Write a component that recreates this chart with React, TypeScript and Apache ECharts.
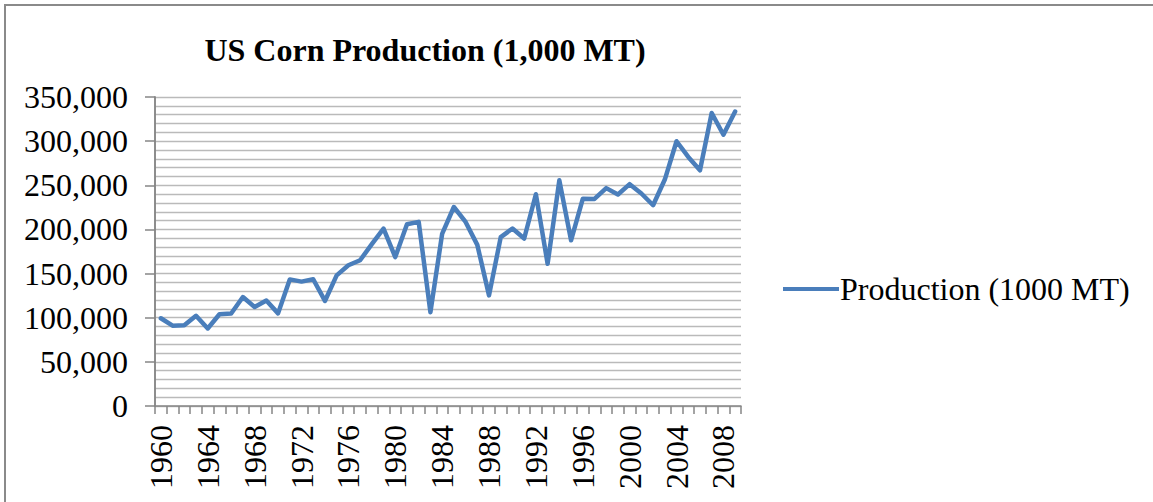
import React, { useEffect, useRef } from "react";
import * as echarts from "echarts";

const years: string[] = [];
for (let y = 1960; y <= 2009; y++) years.push(String(y));

const production: number[] = [
  99400, 91000, 91400, 102200, 87800, 103900, 104800, 123400, 112200, 119500,
  104900, 143400, 140900, 143600, 119000, 148000, 159400, 165100, 183300, 201000,
  168700, 205900, 208600, 106300, 195000, 225400, 208500, 182500, 125300, 191300,
  201000, 189700, 239800, 161100, 255600, 187700, 234700, 234600, 246800, 239600,
  251300, 240700, 227400, 256500, 299900, 282100, 267000, 331900, 307300, 333500,
];

const yMin = 0;
const yMax = 350000;
const gridStep = 10000;
const labelStep = 50000;

const FONT = "'Liberation Serif', 'Times New Roman', serif";

export default function App() {
  const ref = useRef<HTMLDivElement>(null);
  useEffect(() => {
    if (!ref.current) return;
    const chart = echarts.init(ref.current, undefined, { renderer: "svg" });
    chart.setOption({
      animation: false,
      backgroundColor: "#ffffff",
      title: {
        text: "US Corn Production (1,000 MT)",
        left: 420,
        top: 29,
        textAlign: "center",
        textStyle: { fontFamily: FONT, fontSize: 32, fontWeight: "bold", color: "#000" },
      },
      legend: {
        left: 778,
        top: 268,
        icon: "rect",
        itemWidth: 56,
        itemHeight: 4,
        textStyle: { fontFamily: FONT, fontSize: 32, color: "#000", padding: [0, 0, 0, -4] },
        data: ["Production (1000 MT)"],
      },
      graphic: [
        {
          type: "rect",
          shape: { x: 5, y: 5, width: 1300, height: 700 },
          style: { fill: "none", stroke: "#8a8a8a", lineWidth: 2 },
          silent: true,
        },
      ],
      grid: { left: 155, top: 97, width: 586, height: 309, containLabel: false },
      xAxis: {
        type: "category",
        data: years,
        boundaryGap: true,
        axisLine: { show: true, lineStyle: { color: "#868686", width: 1.5 } },
        axisTick: { show: true, interval: 0, length: 8, alignWithLabel: false, lineStyle: { color: "#868686", width: 1.5 } },
        axisLabel: {
          interval: 3,
          rotate: 90,
          margin: 19,
          fontFamily: FONT,
          fontSize: 32,
          color: "#000",
        },
        splitLine: { show: false },
      },
      yAxis: [
        {
          type: "value",
          min: yMin,
          max: yMax,
          interval: gridStep,
          axisLine: { show: true, lineStyle: { color: "#868686", width: 1.5 } },
          axisTick: { show: false },
          axisLabel: { show: false },
          splitLine: { show: true, lineStyle: { color: "#bababa", width: 1.3 } },
        },
        {
          type: "value",
          min: yMin,
          max: yMax,
          interval: labelStep,
          position: "left",
          axisLine: { show: true, lineStyle: { color: "#868686", width: 1.5 } },
          axisTick: { show: true, length: 10, lineStyle: { color: "#868686", width: 1.5 } },
          axisLabel: {
            margin: 27,
            fontFamily: FONT,
            fontSize: 32,
            color: "#000",
            formatter: (v: number) => v.toLocaleString("en-US"),
          },
          splitLine: { show: false },
        },
      ],
      series: [
        {
          name: "Production (1000 MT)",
          type: "line",
          yAxisIndex: 0,
          data: production,
          showSymbol: false,
          symbol: "none",
          color: "#4a7ebb",
          lineStyle: { color: "#4a7ebb", width: 4.5, join: "round", cap: "round" },
        },
      ],
    });
    return () => chart.dispose();
  }, []);
  return (
    <div
      ref={ref}
      style={{ position: "fixed", left: 0, top: 0, width: 1153, height: 502, background: "#fff" }}
    />
  );
}
